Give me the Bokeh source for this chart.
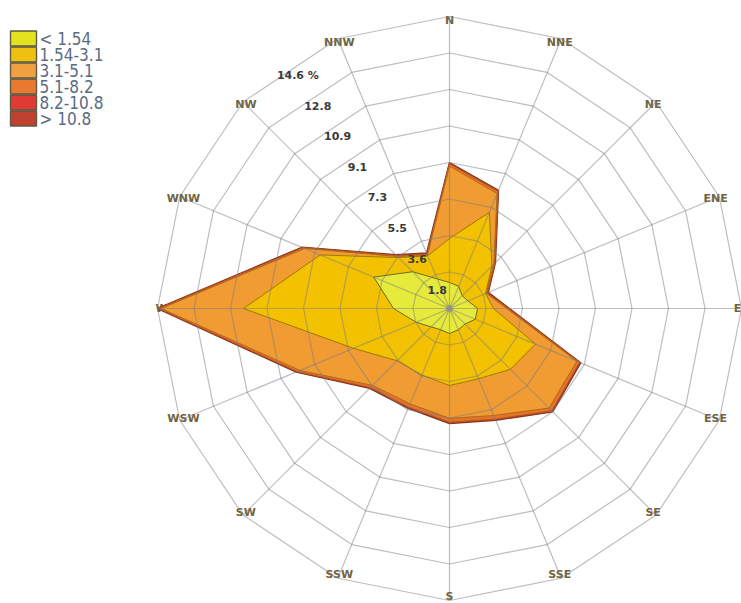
import math
from bokeh.plotting import figure
from bokeh.models import Range1d
from bokeh.core.properties import value
from bokeh.embed import file_html
from bokeh.resources import INLINE

# ---------------- data ----------------
directions = ["N", "NNE", "NE", "ENE", "E", "ESE", "SE", "SSE",
              "S", "SSW", "SW", "WSW", "W", "WNW", "NW", "NNW"]
class_labels = ["< 1.54", "1.54-3.1", "3.1-5.1", "5.1-8.2", "8.2-10.8", "> 10.8"]
# frequency (%) per speed class and direction
freq_lt154   = [1.30, 1.20, 0.90, 1.00, 1.40, 1.40, 1.10, 1.15, 1.25, 1.15, 1.30, 1.80, 2.80, 4.10, 2.60, 1.60]
freq_154_31  = [2.20, 4.00, 2.10, 0.95, 0.80, 3.25, 3.20, 2.65, 2.60, 2.45, 2.40, 3.40, 7.50, 2.90, 1.00, 1.25]
freq_31_51   = [3.62, 1.02, 0.13, 0.04, 0.66, 2.24, 2.74, 1.99, 1.64, 1.56, 1.74, 2.89, 4.12, 0.84, 0.08, 0.03]
freq_51_82   = [0.12, 0.12, 0.06, 0.05, 0.08, 0.15, 0.20, 0.20, 0.20, 0.18, 0.15, 0.15, 0.12, 0.10, 0.06, 0.06]
freq_82_108  = [0.03] * 16
freq_gt108   = [0.03] * 16
ring_values = [1.825, 3.65, 5.475, 7.3, 9.125, 10.95, 12.775, 14.6]
ring_labels = ["1.8", "3.6", "5.5", "7.3", "9.1", "10.9", "12.8", "14.6 %"]

fills = ["#e6ea3a", "#f2c100", "#f09c32", "#e2742a", "#d8482e", "#a83c22"]
edges = ["#6f6c12", "#a07a00", "#b06a18", "#b85420", "#a83424", "#7a3a1c"]
legend_fills = ["#e2e21e", "#f0c010", "#f0a040", "#e87a30", "#e03a32", "#c04030"]

# ---------------- figure ----------------
W, H = 741, 603
CX, CY = 449, 308          # pixel position of rose centre
S = 20.0                   # pixels per percent
x0, y1 = -CX / S, CY / S
p = figure(width=W, height=H, output_backend="svg", toolbar_location=None,
           x_range=Range1d(x0, x0 + W / S), y_range=Range1d(y1 - H / S, y1),
           min_border=0, outline_line_color=None)
p.axis.visible = False
p.grid.visible = False
p.background_fill_color = "white"
p.border_fill_color = "white"

def px(xp):
    return x0 + xp / S

def py(yp):
    return y1 - yp / S

n = len(directions)
angles = [i * 2 * math.pi / n for i in range(n)]

def polar(rs):
    xs = [r * math.sin(a) for r, a in zip(rs, angles)]
    ys = [r * math.cos(a) for r, a in zip(rs, angles)]
    return xs, ys

# direction labels (drawn first, so the rose may cover them)
lab_r = 14.4
p.text(x=[lab_r * math.sin(a) for a in angles], y=[lab_r * math.cos(a) for a in angles],
       text=directions, text_align="center", text_baseline="middle",
       text_font=value("DejaVu Sans"), text_font_style="bold", text_font_size="11px",
       text_color="#6e6440")

# stacked cumulative polygons, outermost first
layers = [freq_lt154, freq_154_31, freq_31_51, freq_51_82, freq_82_108, freq_gt108]
cum = []
run = [0.0] * n
for lay in layers:
    run = [a + b for a, b in zip(run, lay)]
    cum.append(run)
for k in range(len(layers) - 1, -1, -1):
    xs, ys = polar(cum[k])
    p.patch(xs, ys, fill_color=fills[k], line_color=edges[k],
            line_width=1.4 if k == len(layers) - 1 else 1.0)

# grid (on top, semi transparent)
ring_xs, ring_ys = [], []
for rv in ring_values:
    xs, ys = polar([rv] * n)
    ring_xs.append(xs + [xs[0]])
    ring_ys.append(ys + [ys[0]])
p.multi_line(ring_xs, ring_ys, line_color="#7c7c88", line_alpha=0.5, line_width=1.2)
spk_xs = [[0, ring_values[-1] * math.sin(a)] for a in angles]
spk_ys = [[0, ring_values[-1] * math.cos(a)] for a in angles]
p.multi_line(spk_xs, spk_ys, line_color="#7c7c88", line_alpha=0.5, line_width=1.2)
p.scatter([0], [0], size=7, fill_color="#909090", line_color=None, fill_alpha=0.7)

# ring labels
la = math.radians(-33)
lr = [rv - 0.68 for rv in ring_values]
lr[0] = ring_values[0] - 0.7
p.text(x=[r * math.sin(la) for r in lr], y=[r * math.cos(la) for r in lr],
       text=ring_labels, text_align="center", text_baseline="middle",
       text_font=value("DejaVu Sans"), text_font_style="bold", text_font_size="11px",
       text_color="#3a3a3a")

# legend
top, rowh = 30, 16
lx = [px(23)] * 6
ly = [py(top + rowh * i + rowh / 2) for i in range(6)]
p.rect(x=lx, y=ly, width=26 / S, height=(rowh - 1) / S, fill_color=legend_fills,
       line_color="#5e5a44", line_width=1.4)
p.text(x=[px(39)] * 6, y=ly, text=class_labels, text_align="left", text_baseline="middle",
       text_font=value("DejaVu Sans Condensed"), text_font_size="17px", text_color="#5a6a80")

open("out.html", "w").write(file_html(p, INLINE))
